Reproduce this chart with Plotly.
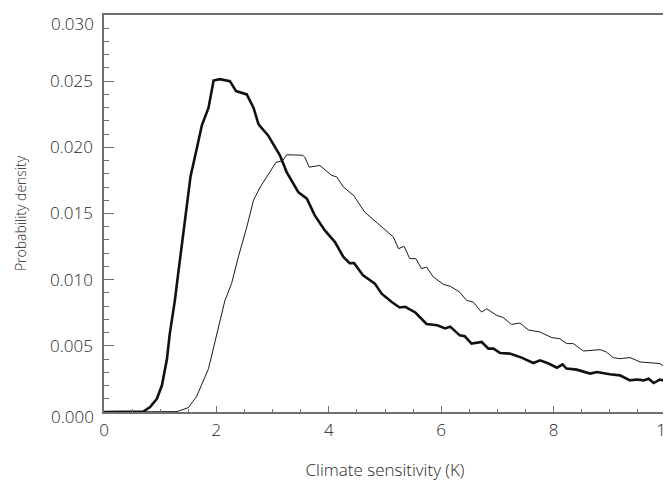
import plotly.graph_objects as go

# Thick curve
thick_x = [0.0, 0.7, 0.82, 0.94, 1.03, 1.12, 1.17, 1.22, 1.26, 1.32, 1.41, 1.46, 1.54, 1.65, 1.74, 1.86,
           1.95, 2.06, 2.24, 2.35, 2.54, 2.66, 2.75, 2.92, 3.13, 3.25, 3.46, 3.61, 3.75, 3.93, 4.11,
           4.26, 4.37, 4.45, 4.61, 4.82, 4.94, 5.12, 5.26, 5.36, 5.54, 5.74, 5.93, 6.07, 6.16, 6.33,
           6.42, 6.54, 6.72, 6.84, 6.93, 7.05, 7.22, 7.43, 7.64, 7.76, 7.91, 8.06, 8.16, 8.23, 8.41,
           8.65, 8.77, 9.00, 9.18, 9.36, 9.48, 9.60, 9.69, 9.78, 9.89, 10.0]
thick_y = [0.0, 0.00003, 0.00038, 0.0010, 0.0020, 0.0040, 0.0059, 0.0072, 0.0084, 0.01045, 0.01347,
           0.0152, 0.0178, 0.0199, 0.02165, 0.0230, 0.02505, 0.02515, 0.0250, 0.02425, 0.0240, 0.0230,
           0.02173, 0.0209, 0.0194, 0.01813, 0.0166, 0.01612, 0.01486, 0.01372, 0.01284, 0.01171,
           0.01125, 0.01125, 0.01032, 0.0097, 0.00894, 0.00831, 0.00790, 0.00795, 0.00752, 0.00665,
           0.00655, 0.00632, 0.00645, 0.00579, 0.00572, 0.00517, 0.00529, 0.00479, 0.00479, 0.00446,
           0.00441, 0.00411, 0.0037, 0.0039, 0.00366, 0.00335, 0.0036, 0.00328, 0.0032, 0.0029,
           0.00302, 0.00285, 0.00277, 0.00239, 0.00245, 0.00239, 0.00252, 0.00219, 0.00245, 0.00234]

# Thin curve
thin_x = [0.0, 1.3, 1.50, 1.65, 1.86, 2.00, 2.09, 2.15, 2.27, 2.39, 2.54, 2.66, 2.78, 2.92, 3.06, 3.18,
          3.25, 3.54, 3.58, 3.65, 3.84, 4.05, 4.14, 4.26, 4.44, 4.64, 4.91, 5.15, 5.24, 5.34, 5.44,
          5.55, 5.65, 5.74, 5.86, 6.04, 6.16, 6.33, 6.45, 6.57, 6.72, 6.81, 6.99, 7.10, 7.25, 7.40,
          7.55, 7.76, 7.97, 8.11, 8.23, 8.35, 8.53, 8.71, 8.83, 8.94, 9.06, 9.18, 9.36, 9.54, 9.78,
          9.89, 10.0]
thin_y = [0.0, 0.00003, 0.00033, 0.00119, 0.00328, 0.00566, 0.00718, 0.0084, 0.0097, 0.01171, 0.01397,
          0.0160, 0.0170, 0.0179, 0.01886, 0.0190, 0.01944, 0.0194, 0.0192, 0.0185, 0.01863, 0.01788,
          0.01777, 0.0170, 0.01637, 0.0151, 0.0141, 0.01322, 0.01234, 0.01252, 0.01159, 0.01159,
          0.01083, 0.01095, 0.0102, 0.00965, 0.0095, 0.00906, 0.00844, 0.00830, 0.00755, 0.0078,
          0.0073, 0.00715, 0.00662, 0.00672, 0.0062, 0.00604, 0.00562, 0.00554, 0.00517, 0.00517,
          0.00461, 0.00466, 0.00471, 0.00453, 0.00411, 0.00403, 0.00411, 0.00378, 0.00366, 0.00366,
          0.00335]

y_inner_ticks = [0.005, 0.010, 0.015, 0.020, 0.025]
y_end_ticks = [0.000, 0.030]

x_title = "Climate sensitivity (K)"
y_title = "Probability density"

fig = go.Figure()
fig.add_trace(go.Scatter(x=thin_x, y=thin_y, mode="lines",
                         line=dict(color="#1a1a1a", width=1), showlegend=False))
fig.add_trace(go.Scatter(x=thick_x, y=thick_y, mode="lines",
                         line=dict(color="#111111", width=2.6), showlegend=False))

font_col = "#262626"
axis_col = "#707070"

# page body has an 8px default margin, so the figure is sized to fit the window
fig.update_layout(
    width=663, height=473,
    margin=dict(l=96, r=5, t=6.5, b=69.3),
    paper_bgcolor="white", plot_bgcolor="white",
    font=dict(family="Open Sans", color=font_col, size=17, weight=300),
)
fig.update_xaxes(
    range=[0, 10], dtick=2, tick0=0, showgrid=False, zeroline=False,
    showline=True, mirror=True, linecolor=axis_col, linewidth=1.5,
    ticks="inside", ticklen=6, tickcolor=axis_col, tickwidth=1.2,
    minor=dict(dtick=0.5, ticks="inside", ticklen=3, tickcolor=axis_col, tickwidth=1.2),
    tickfont=dict(size=17, weight=300, color=font_col), automargin=False, ticklabeloverflow="allow",
    ticklabelstandoff=2,
    title=dict(text=x_title, font=dict(size=17, weight=300, color=font_col), standoff=28),
)
fig.update_yaxes(
    range=[0, 0.030], tickmode="array", tickvals=y_inner_ticks,
    ticktext=[f"{v:.3f}" for v in y_inner_ticks], showgrid=False, zeroline=False,
    showline=True, mirror=True, linecolor=axis_col, linewidth=1.5,
    ticks="inside", ticklen=10, tickcolor=axis_col, tickwidth=1.2,
    minor=dict(tick0=0, dtick=0.001, ticks="inside", ticklen=5, tickcolor=axis_col, tickwidth=1.2),
    tickfont=dict(size=17, weight=300, color=font_col), automargin=False, ticklabelstandoff=6,
    ticklabeloverflow="allow",
    title=dict(text=y_title, font=dict(size=14, weight=300, color=font_col), standoff=20),
)
# end labels of the y axis sit slightly inside the frame, as in the original
for v, shift in zip(y_end_ticks, [-4, -8]):
    fig.add_annotation(x=0, xref="paper", y=v, yref="y", text=f"{v:.3f}", showarrow=False,
                       xanchor="right", yanchor="middle", xshift=-8, yshift=shift,
                       font=dict(size=17, weight=300, color=font_col))

fig.write_html("out.html")
